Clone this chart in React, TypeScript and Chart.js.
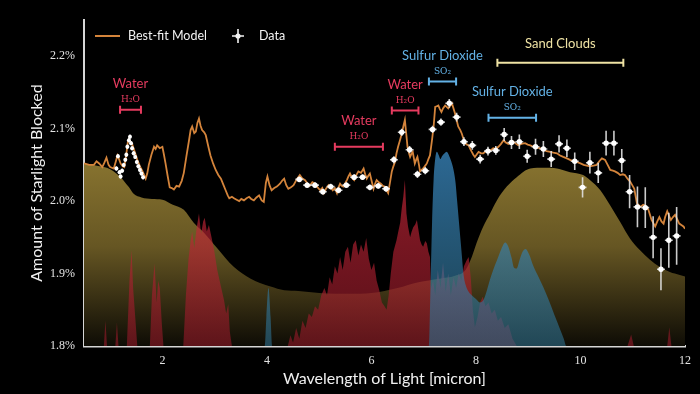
import React, { useEffect, useRef } from 'react';
import { Chart, registerables } from 'chart.js';

Chart.register(...registerables);

// ---------- axes ----------
const xTicks = [2, 4, 6, 8, 10, 12];
const yTicks = [1.8, 1.9, 2.0, 2.1, 2.2];
const xTitle = 'Wavelength of Light [micron]';
const yTitle = 'Amount of Starlight Blocked';
const legendLabels = ['Best-fit Model', 'Data'];

// ---------- best-fit model ----------
const modelX = [0.5,0.6,0.69,0.74,0.79,0.85,0.89,0.93,0.97,1.0,1.07,1.11,1.14,1.17,1.2,1.24,1.27,1.31,1.34,1.36,1.38,1.42,1.47,1.52,1.57,1.62,1.68,1.71,1.74,1.79,1.84,1.87,1.9,1.95,2.0,2.03,2.06,2.1,2.14,2.18,2.22,2.27,2.32,2.37,2.41,2.46,2.51,2.54,2.57,2.61,2.64,2.67,2.7,2.73,2.76,2.8,2.83,2.88,2.92,2.97,3.02,3.07,3.12,3.17,3.21,3.25,3.28,3.33,3.37,3.42,3.47,3.51,3.56,3.61,3.66,3.7,3.75,3.8,3.85,3.9,3.94,3.98,4.01,4.05,4.09,4.14,4.19,4.25,4.29,4.33,4.37,4.41,4.46,4.51,4.57,4.63,4.68,4.73,4.78,4.82,4.87,4.92,4.97,5.02,5.06,5.09,5.13,5.18,5.22,5.26,5.3,5.34,5.37,5.4,5.43,5.46,5.5,5.53,5.56,5.59,5.63,5.67,5.71,5.75,5.8,5.85,5.88,5.91,5.94,5.97,6.01,6.04,6.07,6.1,6.14,6.18,6.22,6.26,6.29,6.32,6.36,6.39,6.42,6.45,6.48,6.51,6.55,6.58,6.61,6.64,6.67,6.69,6.72,6.74,6.77,6.79,6.81,6.83,6.86,6.88,6.91,6.93,6.96,6.99,7.03,7.06,7.09,7.12,7.16,7.19,7.22,7.25,7.28,7.31,7.34,7.37,7.41,7.44,7.47,7.51,7.54,7.57,7.6,7.63,7.66,7.7,7.73,7.76,7.79,7.83,7.86,7.89,7.92,7.95,7.98,8.02,8.05,8.1,8.14,8.19,8.24,8.28,8.33,8.38,8.43,8.48,8.53,8.57,8.62,8.67,8.72,8.77,8.81,8.87,8.94,8.99,9.04,9.1,9.16,9.22,9.29,9.35,9.42,9.48,9.55,9.61,9.67,9.74,9.8,9.87,9.93,10.0,10.06,10.12,10.18,10.25,10.31,10.36,10.41,10.44,10.47,10.52,10.57,10.62,10.66,10.71,10.76,10.81,10.85,10.9,10.95,10.99,11.03,11.06,11.08,11.12,11.15,11.2,11.24,11.27,11.3,11.33,11.36,11.4,11.43,11.47,11.51,11.55,11.59,11.62,11.66,11.7,11.73,11.77,11.81,11.85,11.89,11.93,11.97,12.0];
const modelY = [2.052,2.05,2.05,2.055,2.052,2.047,2.053,2.06,2.05,2.047,2.045,2.055,2.063,2.058,2.052,2.048,2.047,2.065,2.082,2.086,2.083,2.079,2.068,2.057,2.048,2.041,2.031,2.038,2.05,2.064,2.075,2.072,2.077,2.073,2.075,2.064,2.052,2.035,2.019,2.018,2.016,2.021,2.02,2.028,2.039,2.062,2.084,2.098,2.103,2.094,2.096,2.108,2.114,2.104,2.098,2.095,2.091,2.075,2.063,2.052,2.043,2.036,2.031,2.022,2.015,2.008,2.004,2.006,2.004,2.002,2.0,2.003,2.001,2.004,2.006,2.003,2.001,2.005,2.008,2.001,1.999,2.025,2.034,2.022,2.015,2.018,2.02,2.024,2.028,2.031,2.022,2.017,2.019,2.022,2.03,2.036,2.031,2.029,2.024,2.021,2.026,2.024,2.019,2.015,2.018,2.011,2.017,2.022,2.019,2.015,2.018,2.011,2.019,2.024,2.021,2.02,2.025,2.029,2.034,2.038,2.032,2.029,2.036,2.041,2.039,2.045,2.037,2.031,2.035,2.038,2.026,2.017,2.024,2.029,2.026,2.024,2.021,2.02,2.015,2.011,2.028,2.041,2.048,2.054,2.066,2.075,2.085,2.093,2.103,2.112,2.09,2.075,2.066,2.061,2.066,2.068,2.06,2.052,2.058,2.061,2.05,2.041,2.043,2.045,2.049,2.052,2.058,2.063,2.085,2.103,2.13,2.131,2.132,2.127,2.123,2.128,2.132,2.13,2.128,2.132,2.135,2.128,2.121,2.112,2.103,2.098,2.093,2.086,2.08,2.078,2.077,2.072,2.068,2.064,2.061,2.065,2.068,2.066,2.066,2.069,2.071,2.07,2.073,2.072,2.075,2.079,2.084,2.081,2.079,2.081,2.082,2.079,2.077,2.079,2.08,2.078,2.077,2.075,2.074,2.073,2.071,2.069,2.068,2.067,2.066,2.063,2.061,2.059,2.057,2.055,2.054,2.052,2.05,2.049,2.048,2.049,2.05,2.055,2.059,2.058,2.057,2.05,2.043,2.042,2.041,2.039,2.036,2.037,2.036,2.031,2.027,2.022,2.017,2.005,1.997,1.994,1.992,1.995,1.994,1.991,1.988,1.981,1.974,1.969,1.965,1.972,1.978,1.972,1.969,1.978,1.986,1.979,1.974,1.978,1.981,1.975,1.969,1.967,1.965,1.962];

// ---------- observed data ----------
const dataX = [1.12,1.15,1.18,1.2,1.23,1.26,1.29,1.31,1.33,1.36,1.38,1.4,1.42,1.45,1.48,1.51,1.54,1.57,1.6,1.63,
  4.62,4.77,4.92,5.07,5.22,5.37,5.52,5.67,5.83,5.97,6.13,6.28,6.43,6.58,6.73,6.88,7.03,
  7.17,7.33,7.49,7.63,7.77,7.93,8.08,8.23,8.38,8.54,8.68,8.83,8.98,9.14,9.29,9.44,9.59,9.74,9.89,10.04,10.18,10.34,10.49,10.64,10.79,10.94,11.09,11.24,11.39,11.54,11.69,11.84];
const dataY = [2.045,2.062,2.04,2.034,2.042,2.05,2.057,2.064,2.075,2.084,2.089,2.08,2.073,2.066,2.061,2.054,2.048,2.043,2.038,2.033,
  2.03,2.022,2.022,2.013,2.02,2.015,2.022,2.033,2.033,2.019,2.021,2.017,2.057,2.095,2.071,2.037,2.042,
  2.099,2.109,2.135,2.116,2.082,2.077,2.058,2.069,2.07,2.092,2.081,2.082,2.062,2.075,2.072,2.058,2.079,2.073,2.055,2.019,2.053,2.039,2.08,2.08,2.056,2.013,1.992,1.991,1.95,1.906,1.946,1.952];
const dataYErr = [0.003,0.003,0.003,0.003,0.003,0.003,0.003,0.003,0.003,0.003,0.003,0.003,0.003,0.003,0.003,0.003,0.003,0.003,0.003,0.003,
  0.004,0.004,0.004,0.004,0.004,0.004,0.004,0.004,0.004,0.004,0.004,0.004,0.005,0.005,0.005,0.005,0.005,
  0.005,0.005,0.006,0.006,0.006,0.006,0.006,0.006,0.006,0.009,0.009,0.01,0.009,0.011,0.011,0.011,0.012,0.012,0.012,0.014,0.015,0.014,0.017,0.017,0.016,0.023,0.028,0.028,0.029,0.029,0.038,0.04];
const dataXErr = [0.01,0.01,0.01,0.01,0.01,0.01,0.01,0.01,0.01,0.01,0.01,0.01,0.01,0.01,0.01,0.01,0.01,0.01,0.01,0.01,
  0.075,0.075,0.075,0.075,0.075,0.075,0.075,0.075,0.075,0.075,0.075,0.075,0.075,0.075,0.075,0.075,0.075,
  0.075,0.075,0.075,0.075,0.075,0.075,0.075,0.075,0.075,0.075,0.075,0.075,0.075,0.075,0.075,0.075,0.075,0.075,0.075,0.075,0.075,0.075,0.075,0.075,0.075,0.075,0.075,0.075,0.075,0.075,0.075,0.075];

// ---------- contributions ----------
const cloudX = [0.5,0.8,1.0,1.2,1.35,1.45,1.6,1.8,2.0,2.2,2.41,2.6,2.8,3.05,3.37,3.69,4.07,4.33,4.6,5.0,5.3,5.6,6.0,6.5,6.9,7.3,7.6,7.8,7.92,8.01,8.14,8.27,8.4,8.59,8.78,9.04,9.3,9.55,9.8,10.05,10.18,10.38,10.57,10.76,10.95,11.14,11.33,11.52,11.71,11.9,12.0];
const cloudY = [2.052,2.048,2.044,2.033,2.02,2.01,2.005,2.003,2.002,1.995,1.988,1.97,1.956,1.935,1.909,1.893,1.882,1.877,1.876,1.873,1.872,1.872,1.873,1.88,1.888,1.893,1.897,1.905,1.923,1.942,1.965,1.983,2.001,2.02,2.033,2.045,2.046,2.045,2.04,2.036,2.029,2.015,1.994,1.971,1.948,1.932,1.919,1.909,1.902,1.898,1.896];

const waterX = [0.5,0.88,0.91,0.94,1.1,1.13,1.16,1.32,1.37,1.41,1.44,1.48,1.52,1.76,1.8,1.85,1.89,1.92,1.95,1.99,2.02,2.4,2.45,2.5,2.54,2.57,2.61,2.65,2.7,2.74,2.78,2.81,2.85,2.89,2.94,2.99,3.05,3.12,3.18,3.22,3.26,3.29,3.33,4.4,4.45,4.5,4.56,4.62,4.68,4.74,4.8,4.86,4.92,4.98,5.04,5.1,5.15,5.2,5.25,5.3,5.35,5.4,5.45,5.5,5.55,5.6,5.65,5.7,5.75,5.8,5.85,5.9,5.95,6.0,6.05,6.1,6.15,6.2,6.25,6.29,6.33,6.37,6.42,6.48,6.52,6.55,6.58,6.61,6.64,6.67,6.7,6.74,6.77,6.8,6.84,6.87,6.9,6.93,6.96,6.99,7.03,7.06,7.09,7.12,7.14,7.18,7.22,7.27,7.32,7.37,7.42,7.47,7.52,7.57,7.62,7.67,7.72,7.77,7.82,7.86,7.9,7.94,7.98,8.03,8.08,8.13,8.18,8.24,8.3,8.36,8.42,8.48,8.55,8.62,8.7,8.78,10.9,10.97,11.02,11.66,11.7,11.74,12.0];
const waterY = [1.8,1.8,1.835,1.8,1.8,1.832,1.8,1.8,1.89,1.932,1.88,1.84,1.8,1.8,1.87,1.914,1.86,1.89,1.88,1.83,1.8,1.8,1.87,1.92,1.945,1.958,1.935,1.96,1.983,1.955,1.972,1.977,1.958,1.967,1.95,1.932,1.905,1.882,1.863,1.845,1.858,1.82,1.8,1.8,1.815,1.805,1.825,1.81,1.835,1.825,1.845,1.84,1.855,1.85,1.87,1.88,1.87,1.895,1.885,1.91,1.9,1.923,1.905,1.93,1.937,1.915,1.94,1.946,1.925,1.94,1.93,1.949,1.92,1.905,1.915,1.89,1.877,1.86,1.855,1.85,1.87,1.9,1.93,1.946,1.96,1.97,1.99,2.006,2.029,1.983,1.965,1.95,1.958,1.964,1.968,1.974,1.96,1.946,1.94,1.937,1.945,1.942,1.93,1.923,1.88,1.89,1.87,1.905,1.88,1.915,1.875,1.9,1.87,1.895,1.88,1.9,1.89,1.91,1.918,1.923,1.895,1.85,1.826,1.84,1.86,1.868,1.855,1.86,1.845,1.85,1.835,1.84,1.825,1.83,1.81,1.8,1.8,1.816,1.8,1.8,1.826,1.8,1.8];

const so2X = [0.5,3.96,3.99,4.03,4.07,4.1,7.1,7.13,7.16,7.19,7.22,7.25,7.29,7.32,7.35,7.4,7.44,7.49,7.54,7.58,7.61,7.64,7.67,7.7,7.73,7.76,7.8,7.86,7.92,8.0,8.08,8.14,8.21,8.27,8.33,8.4,8.48,8.56,8.62,8.68,8.73,8.78,8.84,8.9,8.95,9.02,9.1,9.2,9.29,9.4,9.5,9.6,9.68,9.73,12.0];
const so2Y = [1.8,1.8,1.84,1.88,1.84,1.8,1.8,1.88,1.97,2.03,2.058,2.068,2.063,2.058,2.062,2.066,2.068,2.062,2.052,2.04,2.025,2.0,1.975,1.95,1.925,1.9,1.885,1.875,1.87,1.865,1.86,1.863,1.877,1.892,1.905,1.918,1.933,1.943,1.937,1.922,1.908,1.907,1.92,1.931,1.934,1.926,1.91,1.895,1.881,1.862,1.843,1.825,1.81,1.8,1.8];

// ---------- annotations ----------
const featureLabels = ['Water', 'Water', 'Water', 'Sulfur Dioxide', 'Sulfur Dioxide', 'Sand Clouds'];
const featureFormulas = ['H₂O', 'H₂O', 'H₂O', 'SO₂', 'SO₂', ''];
const featureKinds = ['water', 'water', 'water', 'so2', 'so2', 'cloud'];
const featureStart = [1.19, 5.3, 6.39, 7.1, 8.24, 8.41];
const featureEnd = [1.59, 6.22, 6.9, 7.62, 9.15, 10.82];
const featureLevel = [2.126, 2.075, 2.125, 2.165, 2.115, 2.191];

const COLORS: Record<string, string> = {
  water: '#e63b5f',
  so2: '#63b2e6',
  cloud: '#efe3a4',
  model: '#d4843b',
};

const pts = (xs: number[], ys: number[]) => xs.map((x, i) => ({ x, y: ys[i] }));

function vGradient(chart: any, top: number, bottom: number, stops: [number, string][]) {
  const ys = chart.scales.y;
  if (!ys || !chart.chartArea) return 'rgba(0,0,0,0)';
  const g = chart.ctx.createLinearGradient(0, ys.getPixelForValue(top), 0, ys.getPixelForValue(bottom));
  stops.forEach(([o, c]) => g.addColorStop(o, c));
  return g;
}

const DATA_INDEX = 4;

const errorBarPlugin = {
  id: 'errorBars',
  beforeDatasetDraw(chart: any, args: any) {
    if (args.index !== DATA_INDEX) return;
    const { ctx, scales: { x, y } } = chart;
    ctx.save();
    ctx.strokeStyle = 'rgba(225,225,225,0.9)';
    ctx.lineWidth = 1.6;
    dataX.forEach((xv, i) => {
      const px = x.getPixelForValue(xv);
      const py = y.getPixelForValue(dataY[i]);
      ctx.beginPath();
      ctx.moveTo(px, y.getPixelForValue(dataY[i] - dataYErr[i]));
      ctx.lineTo(px, y.getPixelForValue(dataY[i] + dataYErr[i]));
      ctx.moveTo(x.getPixelForValue(xv - dataXErr[i]), py);
      ctx.lineTo(x.getPixelForValue(xv + dataXErr[i]), py);
      ctx.stroke();
    });
    ctx.restore();
  },
};

const annotationPlugin = {
  id: 'features',
  afterDatasetsDraw(chart: any) {
    const { ctx, scales: { x, y } } = chart;
    ctx.save();
    ctx.textAlign = 'center';
    ctx.textBaseline = 'middle';
    featureLabels.forEach((label, i) => {
      const color = COLORS[featureKinds[i]];
      const x0 = x.getPixelForValue(featureStart[i]);
      const x1 = x.getPixelForValue(featureEnd[i]);
      const yb = y.getPixelForValue(featureLevel[i]);
      ctx.strokeStyle = color;
      ctx.fillStyle = color;
      ctx.lineWidth = 2;
      ctx.beginPath();
      ctx.moveTo(x0, yb); ctx.lineTo(x1, yb);
      ctx.moveTo(x0, yb - 4); ctx.lineTo(x0, yb + 4);
      ctx.moveTo(x1, yb - 4); ctx.lineTo(x1, yb + 4);
      ctx.stroke();
      const cx = (x0 + x1) / 2;
      if (featureFormulas[i]) {
        ctx.font = '9px "DejaVu Serif", serif';
        ctx.fillText(featureFormulas[i], cx, yb - 10);
        ctx.font = '13px Lato, sans-serif';
        ctx.fillText(label, cx, yb - 26);
      } else {
        ctx.font = '13px Lato, sans-serif';
        ctx.fillText(label, cx, yb - 19);
      }
    });
    ctx.restore();
  },
};

const legendPlugin = {
  id: 'customLegend',
  afterDraw(chart: any) {
    const { ctx, chartArea } = chart;
    const lx = chartArea.left + 11;
    const ly = chartArea.top + 16;
    ctx.save();
    ctx.strokeStyle = COLORS.model;
    ctx.lineWidth = 2;
    ctx.beginPath();
    ctx.moveTo(lx, ly); ctx.lineTo(lx + 25, ly);
    ctx.stroke();
    ctx.fillStyle = '#f2f2f2';
    ctx.font = '12.5px Lato, sans-serif';
    ctx.textAlign = 'left';
    ctx.textBaseline = 'middle';
    ctx.fillText(legendLabels[0], lx + 33, ly);
    const mx = chartArea.left + 154;
    ctx.strokeStyle = '#f2f2f2';
    ctx.lineWidth = 1.6;
    ctx.beginPath();
    ctx.moveTo(mx - 6, ly); ctx.lineTo(mx + 6, ly);
    ctx.moveTo(mx, ly - 7); ctx.lineTo(mx, ly + 7);
    ctx.stroke();
    ctx.beginPath();
    ctx.arc(mx, ly, 2.6, 0, Math.PI * 2);
    ctx.fill();
    ctx.fillText(legendLabels[1], chartArea.left + 175, ly);
    ctx.restore();
  },
};

export default function App() {
  const ref = useRef<HTMLCanvasElement>(null);
  useEffect(() => {
    document.body.style.margin = '0';
    document.body.style.background = '#000';
    const chart = new Chart(ref.current as HTMLCanvasElement, {
      type: 'scatter',
      data: {
        datasets: [
          {
            label: 'Sand Clouds',
            type: 'line',
            data: pts(cloudX, cloudY),
            borderWidth: 0,
            pointRadius: 0,
            cubicInterpolationMode: 'monotone',
            fill: 'start',
            order: 5,
            backgroundColor: (c: any) => vGradient(c.chart, 2.05, 1.8, [[0, 'rgb(134,114,47)'], [0.45, 'rgb(102,86,35)'], [1, 'rgb(14,12,5)']]),
          } as any,
          {
            label: 'Water',
            type: 'line',
            data: pts(waterX, waterY),
            borderWidth: 0,
            pointRadius: 0,
            tension: 0,
            fill: 'start',
            order: 4,
            backgroundColor: (c: any) => vGradient(c.chart, 2.03, 1.8, [[0, 'rgba(218,42,62,0.63)'], [1, 'rgba(140,24,38,0.63)']]),
          } as any,
          {
            label: 'Sulfur Dioxide',
            type: 'line',
            data: pts(so2X, so2Y),
            borderWidth: 0,
            pointRadius: 0,
            cubicInterpolationMode: 'monotone',
            fill: 'start',
            order: 3,
            backgroundColor: (c: any) => vGradient(c.chart, 2.07, 1.8, [[0, 'rgba(62,145,205,0.72)'], [1, 'rgba(45,110,140,0.6)']]),
          } as any,
          {
            label: legendLabels[0],
            type: 'line',
            data: pts(modelX, modelY),
            borderColor: COLORS.model,
            borderWidth: 1.8,
            pointRadius: 0,
            tension: 0,
            fill: false,
            order: 2,
          } as any,
          {
            label: legendLabels[1],
            data: pts(dataX, dataY),
            showLine: false,
            pointRadius: (c: any) => (dataXErr[c.dataIndex] < 0.05 ? 2 : 2.7),
            pointBackgroundColor: '#ffffff',
            pointBorderWidth: 0,
            order: 1,
          } as any,
        ],
      },
      options: {
        responsive: false,
        animation: false,
        layout: { padding: { top: 20, right: 15, left: 0, bottom: 0 } },
        plugins: {
          legend: { display: false },
          tooltip: { enabled: false },
        },
        scales: {
          x: {
            type: 'linear',
            min: 0.5,
            max: 12,
            afterBuildTicks: (s: any) => { s.ticks = xTicks.map((v) => ({ value: v })); },
            afterFit: (s: any) => { s.height = 48; },
            grid: { display: false, drawTicks: false },
            border: { display: true, color: '#d6d6d6', width: 2.5 },
            ticks: {
              color: '#e4e4e4',
              font: { family: '"Liberation Serif", serif', size: 12 },
              padding: 8,
              maxRotation: 0,
              autoSkip: false,
              callback: (v: any) => String(v),
            },
            title: {
              display: true,
              text: xTitle,
              color: '#f0f0f0',
              font: { family: 'Lato, sans-serif', size: 16 },
              padding: { top: 0, bottom: 6 },
            },
          },
          y: {
            type: 'linear',
            min: 1.8,
            max: 2.25,
            afterBuildTicks: (s: any) => { s.ticks = yTicks.map((v) => ({ value: v })); },
            afterFit: (s: any) => { s.width = 84; },
            grid: { display: false, drawTicks: false },
            border: { display: true, color: '#d6d6d6', width: 2 },
            ticks: {
              color: '#e4e4e4',
              font: { family: '"Liberation Serif", serif', size: 12 },
              padding: 9,
              callback: (v: any) => Number(v).toFixed(1) + '%',
            },
            title: {
              display: true,
              text: yTitle,
              color: '#f0f0f0',
              font: { family: 'Lato, sans-serif', size: 16 },
              padding: { top: 27, bottom: 0 },
            },
          },
        },
      },
      plugins: [errorBarPlugin, annotationPlugin, legendPlugin],
    } as any);
    return () => chart.destroy();
  }, []);
  return (
    <div style={{ width: 700, height: 394, background: '#000' }}>
      <canvas ref={ref} width={700} height={394} style={{ display: 'block' }} />
    </div>
  );
}
